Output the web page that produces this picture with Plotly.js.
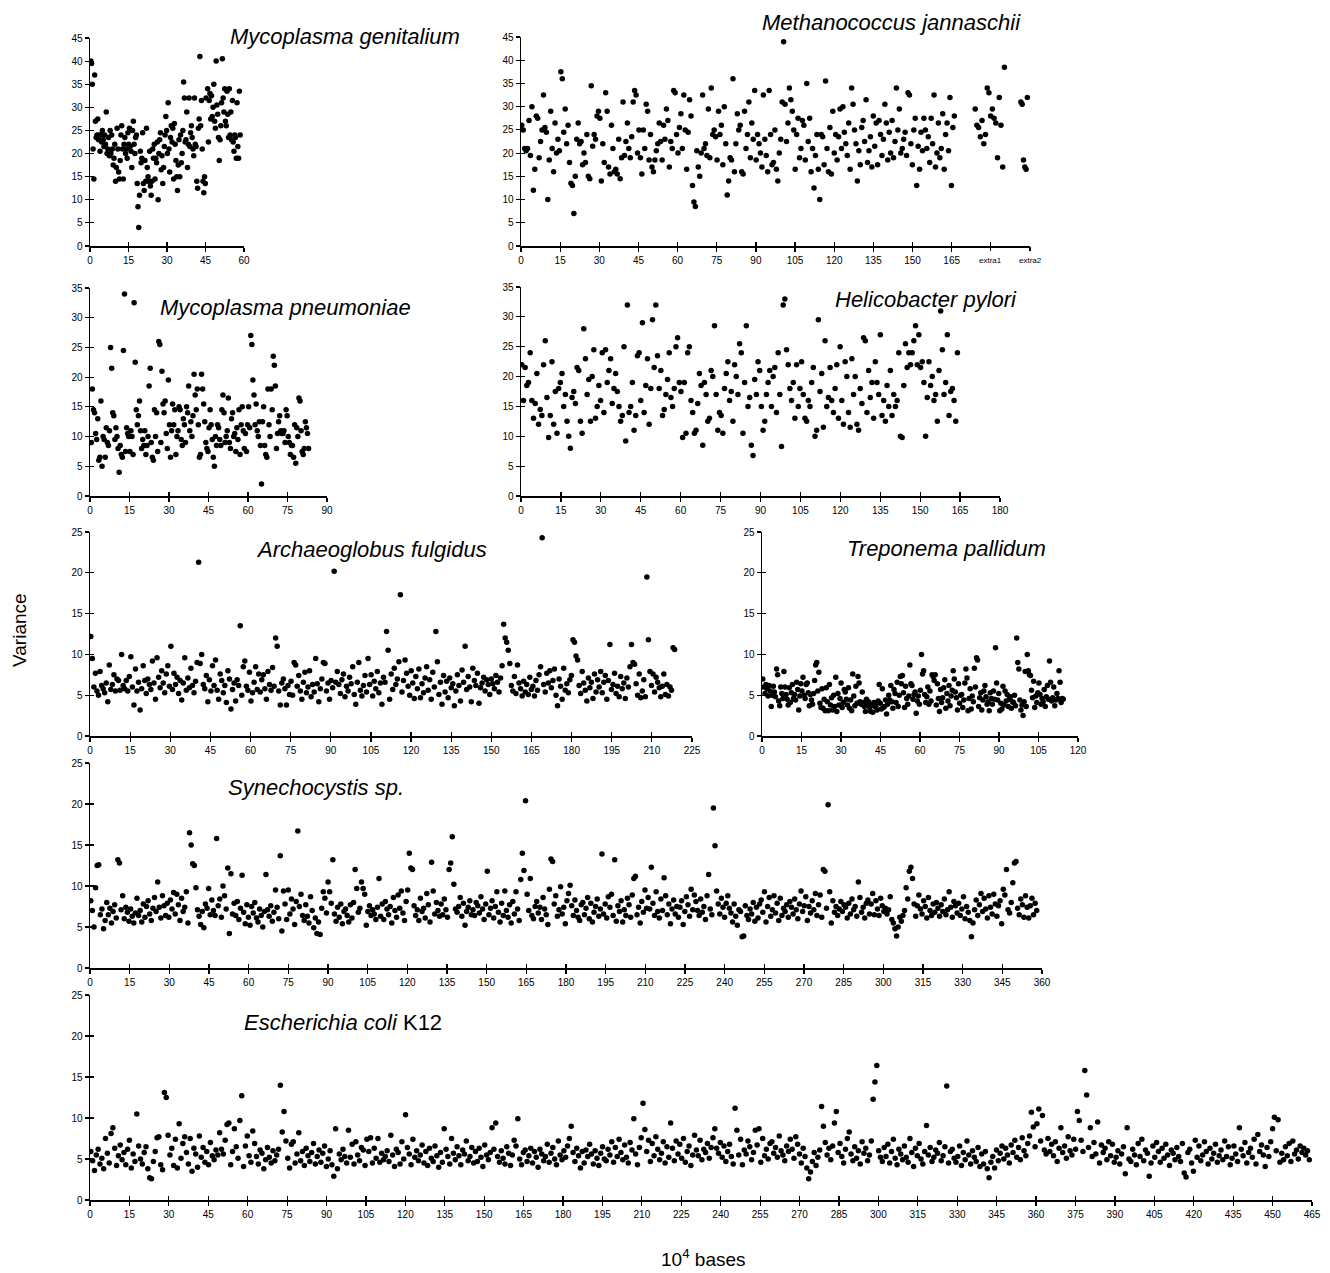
<!DOCTYPE html>
<html><head><meta charset="utf-8">
<script src="https://cdn.plot.ly/plotly-3.0.1.min.js"></script>
<style>html,body{margin:0;padding:0;background:#fff}#chart{width:1330px;height:1273px}</style>
</head><body><div id="chart"></div>
<script>
// Variance per sliding window along each genome (x in 10^4 bases)
const genitaliumVariance = [40,39.5,35,21,14.5,37,27,23.5,24,27.5,
23,24,20.5,24,22.5,25,23,21.5,24,22,
29,20,21,23.5,19.5,25,20,24,21,17.5,
19,22,14,17,25.5,21,16,14.5,18.5,24,
26,21,14.5,22,23.5,20,21,19,24.5,22,
25.5,21.5,20.5,17,25,27,22,20,23.5,24,
13.5,8.5,4,11,20.5,18,19,24.5,13.5,12,
18.5,14,25.5,17,15,14,20.5,13,11,14,
21,19,22,14.5,19,18,22.5,10,20,23,
24.5,16.5,19.5,13.5,17,21.5,24,28,25,20,
31,21,16,23.5,26,22.5,25.5,14.5,26.5,22,
18.5,15,12,17.5,23,15,24,18,20,25,
35.5,32,22.5,23,29,17,22,32,21.5,24.5,
26,23.5,21,19.5,32,22,21.5,14,12.5,25.5,
27.5,41,26,31.5,21,14,11.5,15,13.5,32,
47,34,22.5,31.5,33,27.5,32.5,28,30,35,
27,25.5,40,30.5,28.5,23.5,18.5,23,26,31,
40.5,32,29,34,27,26,33.5,28.5,23.5,34,
24,29,23,31.5,22.5,20.5,24,23.5,19,31,
21.5,19,33.5,24];

const jannaschiiVariance = [26,25,21,20.5,21,27,19.5,30,12,16.5,
28,27.5,19,22.5,25,32.5,25.5,24.5,10,18.5,
29,21,16,26.5,20,23,20.5,37.5,36,24.5,
29.5,22,26,18,13.5,13,7,15,23,26.5,
22,22.5,17.5,20,18,24,15,14.5,34.5,21.5,
24,23,28,29,27.5,14,22,18,33,29,
17,15.5,26,21,16,16.5,15.5,23,14.5,19,
31,19.5,22.5,26.5,21,19,23.5,31,33.5,32.5,
20,25,19,15.5,25,21,30.5,29,18.5,24,
17,16,18.5,20.5,22,26.5,22.5,18.5,26,23,
29.5,27,17,22.5,21,33.5,33,24,20,25.5,
28.5,21,32.5,25,16.5,24.5,31.5,28,13,9.5,
8.5,20.5,17,15,20,32.5,21,22,19.5,29.5,
19,34,24,25,23.5,18.5,29,24,26,17.5,
30,22,11,14,19,18.5,36,16,22,28.5,
25,26,16,15.5,29,21,24,31,19,26.5,
23,33.5,18.5,24,22,20,17,32.5,23,19.5,
16,33.5,24,17.5,18,25,16.5,14,20,23,
31,44,30.5,22.5,26.5,34,31.5,29,25,16.5,
24,27.5,19,21,27,26,18.5,35,22.5,27.5,
16,21,12.5,19.5,24,16.5,10,24,23.5,17.5,
35.5,21,16,25.5,15.5,29,20,24,18.5,23.5,
29.5,21,30,24.5,22,19.5,26.5,16.5,34,30.5,
25,22,14,20.5,17.5,25.5,27,22.5,31.5,18,
20.5,23.5,17,28,21.5,26.5,17.5,27,24,19.5,
23,30.5,26.5,18.5,24.5,20,27,19,22.5,34,
25,29.5,20,21,23,24.5,19.5,33,32.5,22,
17.5,25,27.5,13,21.5,16.5,24.5,20.5,27.5,25,
21,23.5,18,27.5,22,32.5,17,20,26.5,19,
21,28.5,16.5,24,26.5,20.5,32,13,25.5,28];
const jannaschiiExtra1Variance = [29.5,26,25.5,23.5,27,22,24,34,33,28,29.5,27.5,26.5,19,32,26,17,38.5];
const jannaschiiExtra2Variance = [31,30.5,18.5,17,16.5,32];

const pneumoniaeVariance = [9,18,14.5,14,10.5,9.5,13,
6,6.5,16,5,10,9.5,6.5,
11.5,9,8.5,11,25,21.5,14,13.5,9.5,11.5,
10,8,4,8.5,7,6.5,24.5,34,7.5,
11.5,10.5,10,7.5,11,10,7,32.5,22.5,14.5,12,
13.5,16,11,8,9.5,8.5,11,7,8.5,10,
18.5,21.5,9,6.5,6,14.5,10,14,7.5,26,25.5,9,
21,15.5,14,16,10.5,8,19.5,12,6.5,11,
15.5,12,14.5,7,10,11,15,14.5,9.5,
8.5,13,12,9,15,14,18.5,11,12.5,10,13.5,
20.5,17,14.5,18,12,6.5,7,20.5,18,15.5,12.5,
9,8,7.5,11.5,14.5,12,9.5,6.5,5,10,8.5,
12,11.5,9.5,8.5,14.5,17,14,9,10,11,
16.5,9,8,13,14,10,10.5,7.5,11.5,9.5,
14.5,7,12,15,11,8,10.5,7.5,12,15,11.5,
27,25.5,19.5,17,12,15.5,11,10,12.5,
8.5,2,12.5,15,8.5,7,6.5,18,12,10,
18,14.5,23.5,22,18.5,8,10.5,12.5,13.5,11,
10.5,10.5,11,9,14.5,13.5,10,9,7,8.5,
8.5,6.5,12,5.5,11.5,10,16.5,16,11,7.5,
7,8,12.5,11.5,10.5,8];

const pyloriVariance = [22,16,21.5,18.5,19,24,16,13,15.5,
20.5,12,14.5,13.5,22,26,16.5,9.8,13.5,22.5,
12,17.5,10.5,18,19,20.5,15,17,
12.5,10,8,16.5,17.5,15.5,21.5,21,12.5,10.5,
28,23,17,19.5,12.5,
20,24.5,13,15,18.5,16,24,14,24.5,
19,21,23,15.5,18,20.5,17.5,15,
12.5,13.5,25,9.2,32,14,15,19,11,13.5,23.5,24,16,29,14,
18.5,23,12,18,29.5,21.5,32,23.5,18,21,
13.5,14.5,17,19.5,24,16.5,15,18,25,26.5,19,
17.5,9.8,19,10.5,24,25,16,14,10.5,11,
15.5,20.5,18.5,8.5,19,17,12.5,13,21,20,
28.5,17,11,14,13.5,10.5,18,20.5,22.5,16,17.5,12.5,
22,20,17,25.5,24,10.5,19,28.5,15,16.5,8.5,6.8,
19.5,17,22.5,21,15,11,12.5,17,19,21,
15,20,21.5,14,24,17,8.3,32,33,24.5,
22,18,16,19,13,22,15,18,22.5,17,13,12.5,
16,15,19,21.5,10,11,29.5,17.5,20.5,11.5,
26,15,16.5,21.5,16,14,18,22,13,25,
16,12,22.5,20,14,11.5,23,17,20,
12,11,18,15.5,26.5,26,14,21,16.5,19,
13,22.5,19,17,27,13.5,16,12.5,18.5,15,
21,13.5,17,15,16,24,10,9.8,18.5,25.5,
21.5,24,22,24,26,28.5,22,27,21.5,22.5,
19,10,16.5,22.5,18.5,20,16,17,12.5,21,
31,24.5,17,19,27,13.5,17.5,18,16,12.5,24];

const fulgidusVariance = [12.2,9.5,6,7.7,5.5,5,7.9,6.2,5.8,5.3,
6.5,4.2,8.7,5.7,6.3,7.5,5.5,7,6.8,5.6,
10,6.2,5.8,6.8,5.5,7.3,9.7,6,3.8,8.2,
5.5,6.6,3.2,5.8,8.6,6.8,5.2,7,6.3,5.7,
9.2,6.5,4.5,9.6,7.2,5.9,8,6.5,5.3,7.6,
8.6,6.1,11,5.7,7.7,6.3,7.2,5.2,6.8,4.4,
6.5,9.6,5.6,7.1,5.9,8.3,6.2,5.3,6.7,9,
21.3,8.9,10,6.3,5.8,7.4,4.2,6.9,5.5,8.6,
6.2,9.3,5.6,4.5,7.6,6.8,5.3,6.2,4.1,8,
7,3.3,5.7,6.5,4.3,6.9,6.2,13.5,5,8.5,
9.2,6.1,5.6,7.8,4.3,5.3,6.6,8.5,5.7,7.6,
5.4,6.9,7.5,5.8,4.5,7.9,6.3,5.6,8.4,6.1,
12,11,5.5,3.8,6.5,7,5.8,3.8,6.2,5.1,
6.7,5,9,8.7,6.1,7.4,5.5,4.5,6.6,7.8,
5.3,6,8,4.8,6.3,5.4,9.5,6.4,4.2,5.8,
7,9,8.9,5.5,6.5,4.5,6.8,5.9,20.2,6.6,
7.9,6.3,5.2,6.9,7.6,4.8,6.1,5.5,7.2,6.4,
8.5,5.1,3.9,6.6,9,5.6,4.9,6.2,7.4,5.4,
9.5,6.3,7.5,4.9,6.7,5.8,7.9,5.3,6.5,3.9,
7.2,6.6,12.8,10.5,4.5,7.6,5.7,8.3,6.3,7,
9.1,17.3,5.4,6.8,9.3,7.7,6.1,5,8,6.5,
4.6,7.3,5.8,8.2,4.7,6.4,5.3,7.1,8.5,5.6,
6.9,4.5,7.8,6,12.8,9.1,5.1,6.6,3.9,7.4,
5.4,6.7,4.7,7.1,5.9,6.4,3.7,5.5,7.5,6.2,
4.3,8.1,6.6,11,5.7,7.3,6,4.2,8.3,6.8,
6.2,7.7,4,5.9,6.5,7.2,5.5,6.9,6.3,5.1,
7,6.4,5.8,7.4,6.6,5.4,7.1,8.6,13.7,12,
11.5,10.5,8.9,6.2,5.5,7.3,5.2,8.7,6.5,5.8,
4.9,6.7,5.4,6.3,5.1,7.2,5.7,6.1,4.9,6.8,
5.6,7.5,8.5,24.3,6.3,5.4,7.7,6.5,8,5.9,
6.8,8.2,5,3.7,7,6.1,4.5,8.3,5.6,6.4,
5.3,6.9,7.4,11.8,11.5,9.8,9.3,6.2,5.2,7.9,
6.5,5.6,4.3,7.1,5.9,6.6,4.6,7.6,5.4,6.9,
6,7.9,5.3,6.6,7.4,4.5,6.8,11.2,5.7,6.3,
7.7,5.2,6.1,4.8,7.3,5.8,6.5,4.6,7.1,6,
8.5,11.2,9,8.8,6.4,5,7.6,4.7,5.5,6.9,
4.8,19.5,11.8,7.9,6.2,7.6,5.4,7.2,6.6,5.9,
4.8,6.1,7.6,5.1,6.3,4.9,6,5.6,10.8,10.6];

const pallidumVariance = [7,6,5.2,6.3,5.8,4.9,6.2,5.5,3.6,5,
6.1,5.4,4.8,8.2,7.5,4.3,3.7,6,5.2,4.6,
7.9,6,5.1,4.5,3.8,5.9,4.1,5.3,6.3,4.6,
5.1,4.4,6.6,5.7,3.2,4.9,6.4,5.5,7.2,5,
4.6,6.3,6.5,5.3,3.7,5.1,4.4,3.9,5.2,6.8,
8.7,9,5.5,7.8,4,3.5,5.8,3.4,4.5,3.1,
5.9,4.2,3.1,6.3,3.8,4.7,3.2,5,3.6,7.2,
3,5.2,3.8,4.6,6.5,3.5,4.1,5.7,5.4,4.5,
3.8,5.9,3.4,4.4,3.1,7.6,4.9,3.7,6.1,4,
7.3,6.5,4.2,3.9,5.4,4.1,3.6,3,4.5,3.8,
4.2,3.5,3,3.8,2.9,4.1,3.6,3.7,3.2,4.3,
6.3,4,3.3,5.8,3.5,3.6,4.4,2.7,3.9,5,
4.4,6.2,4.2,3.4,5.7,5.2,4.1,6.6,3.6,5,
7.3,6.4,7.4,5.3,3.5,6.1,4.6,3.9,4.9,8.7,
6.4,6.2,4.5,5.1,5.4,2.8,4.3,4.9,3.9,5.6,
10,7.6,8,5.1,4.1,4.8,6,3.9,5.5,4.3,
7.5,7.3,6.8,7.5,3.8,6.4,4.6,3,5.7,4.1,
4.7,5.9,6.9,3.4,5.2,4.3,6.2,3.7,4.9,5.6,
8,7,5.4,4.7,3.2,6.4,4,5,5.1,3.5,
4.4,6.5,8.2,7.1,3.1,4.6,5.8,3.3,4.9,4.2,
8.3,6,9.6,9.3,3.6,4.7,5.3,3.2,4.4,5.5,
6.2,4.8,3.9,4.2,3.1,5.3,4.6,3.9,5.5,4.5,
10.8,6.5,4.4,5.2,3.1,4,3.3,6.1,3.8,5.5,
4.3,5.1,3.6,4.5,4.8,3.4,4.2,4.1,5,3.7,
12,9,8.2,4.4,3.2,3.8,2.5,4.2,7.9,3.6,
10,8,7.5,7.4,5.6,4.7,6.7,3.5,4.9,4.1,
5.3,6.5,5.1,3.9,4.6,4.2,5.7,3.6,4.8,6.2,
4.5,9.2,6.6,4.3,4.7,6,3.7,4.4,5.2,4.6,
8,6.6,4.1,4.6,4.5];

const synechocystisVariance = [8.2,7,5,9.8,12.5,12.6,6.5,7.2,4.8,5.8,
8,6.5,7.3,5.5,6.9,7.7,6.1,13.2,12.8,7.1,
8.8,6,7.4,6.8,5.7,7.2,6.3,5.5,6.7,8.5,
6.4,7,5.6,7.8,6.2,7.5,8.2,6.6,5.8,7.3,
8.6,6.9,10.5,7.4,6.1,8.8,7.6,6.4,7.9,6.2,
8.3,7.2,9.2,6.6,9,7.7,5.8,8.5,6.9,7.4,
9.3,5.5,16.5,15,12.7,12.5,9.8,7.1,6.3,5.3,
6.9,4.9,7.8,7.3,9.7,6.5,8.3,7,6.4,15.8,
7.6,8.4,6.2,10,8.8,7.2,12.2,4.2,11.5,6.6,
7.9,6.4,8.1,5.9,7.3,11.3,6.8,5.4,7.7,6.2,
5.2,7.5,6.7,8,6.1,5.6,7.2,6.4,5,6.9,
11.4,7.1,6.3,7.6,5.7,6.8,9.5,7.4,6,13.7,
4.5,9.4,7.8,5.9,9.5,6.6,8.4,7.2,5.3,8.1,
16.7,7.5,9,6.4,5.8,7.7,6.3,5.5,8.7,7,
4.9,6.1,4.2,5.6,4.1,7.3,9.3,8.5,6.7,10.5,
9.3,7.9,13.2,6.6,5.7,7.4,6.2,7.8,5.4,6.9,
7.2,6.4,5.6,7.7,6.1,8,12,9.7,6.8,7.3,
10.5,9.7,9,5.2,6.9,7.6,6.4,7.1,6.6,5.9,
7.4,10.9,6.3,7.8,5.9,8.1,7.2,6.5,7.5,5.5,
8.6,7,6.2,8.9,7.3,9.4,6.7,5.8,8.1,9.5,
14,12.2,12,7.6,6.4,7.1,5.8,8.5,6.9,7.3,
6.1,9.1,7.7,5.6,12.9,9.4,6.6,8,7,6.3,
7.8,6.5,8.4,7.1,6.2,12,12.8,16,10.2,7.2,
6.8,7.5,8.6,6.3,7.9,5.2,6.9,7.4,8.2,6.5,
7.1,6.4,8,7.6,6.7,8.7,7.2,5.9,7.8,11.8,
6.5,7.3,8.2,6.1,7.5,9.3,6.8,5.6,7.9,6.4,
9.4,7,6.2,7.7,5.5,8.1,6.6,9.3,7.2,5.8,
10.8,14,11.9,20.4,9,7,10.9,6.4,6,7.5,
8.1,6.7,7.4,5.9,8.6,7.2,6.5,5.3,9.6,13.3,
13,7.8,8.8,6.3,7.1,9.9,6.6,7.4,5.4,8.2,
9.1,10.1,7.6,6.4,8.3,7,6.2,5.8,7.7,8,
6.5,7.3,8.6,6,7.9,5.6,6.8,7.5,8.4,6.3,
7.2,13.9,6.6,7.8,6.1,8.7,7.4,9,6.4,13.2,
5.7,7.6,6.9,8.2,5.6,7.1,6.4,8.5,7.7,6.2,
8.9,10.9,11.2,6.5,7.4,5.5,8.1,6.8,9.5,7.3,
8.6,7.2,12.3,7.9,6.4,9.3,6.9,6.1,8.4,7,
11,8.8,6.5,7.8,5.4,7.2,8.3,6.6,7.5,6.2,
7.4,8.2,5.3,6.9,8.7,7.7,6.3,9.6,7.1,8.9,
8.1,7,6.4,8.4,6.8,7.5,5.9,8.8,11.4,7.2,
6.5,19.5,14.9,9.4,7.8,6.6,8.5,7.4,6.2,7.9,
8.8,7.3,6.7,5.6,7.8,6.3,5.2,7.1,6.9,3.8,
3.9,7.6,6.4,5.9,7.2,6.6,8,5.7,7.4,6.1,
7.8,8.3,6.8,9.3,5.6,7.5,8.6,6.3,7.1,8.8,
6.7,7.9,5.8,8.5,6.4,7.3,6.9,7.7,6.2,8.1,
7.4,6.6,8.4,7.1,6,7.8,9.4,6.9,7.6,8.7,
5.8,7.5,6.7,8.2,7.1,9.1,6.4,7.7,8.9,6.2,
12,11.8,7.3,19.9,9.3,5.5,8.2,6.8,7.5,6.4,
7.2,8.1,6.9,7.7,7.4,6.1,7.9,6.6,8.4,7.1,
7.5,6.3,10.5,8.6,6.8,7.4,6.1,7.9,8.3,6.6,
7.8,9.1,6.5,8.2,7.2,6.4,8.5,7.6,6.9,7.3,
6.6,7.1,8.7,5.9,5.5,4.8,3.9,5,6.2,5.7,
6.4,7,9.8,8.4,11.8,12.3,10.9,7.8,6.3,7.6,
8.9,7.2,6.6,8.2,7.5,6.1,8.6,7,6.4,7.8,
6.8,8,7.3,6.3,7.7,6.9,8.4,6.5,7.1,9.3,
7.4,6.2,8.1,7.6,6.7,7.9,6.4,7.2,8.7,6,
7.5,6.8,5.8,3.8,5.5,7.1,8.3,6.4,7.7,9.1,
6.9,8.5,7.2,6.1,8.8,7.4,6.6,9,7.8,6.3,
7.6,8.2,5.4,9.6,8.9,12,7.1,6.7,8,10.4,
12.8,13,7.3,6.5,8.4,7.7,6.2,8.8,7.4,6.1,
7.6,8.5,6.5,7.9,7];

const ecoliVariance = [5.9,4.8,3.6,5.5,6.2,4.4,5.1,3.8,7.5,5.7,
4.5,8.1,8.8,6.3,4.2,5.4,6.7,4.9,5.8,4.3,
6.2,7.3,3.9,5.6,4.7,10.5,6.6,5,4.4,5.8,
6.5,3.8,2.7,2.6,4.7,5.9,7.6,7.7,4.3,3.7,
13.1,12.5,7.9,5.5,6.3,4.2,7.4,3.9,9.3,5.1,
6.9,7.7,5.8,4.4,7.5,3.5,6.3,5.6,4,7.8,
5.2,6.4,4.6,5.9,4.3,7,5.4,4.9,6.1,5.5,
8.2,6.2,5.6,7.3,9.2,9.4,4.3,5.9,8.7,6.5,
5.1,9.7,12.7,4.1,6.6,7.8,5.4,4.6,8.4,6.9,
5.3,4.4,6.1,5.7,3.8,4.9,6.4,5.2,4.5,6,
4.8,5.5,6.2,14,8.3,10.8,7.2,5.1,3.9,6.8,
7.1,4.5,5.6,8.2,4.8,5.9,4.2,6.3,5.4,4.7,
5.8,6.9,4.4,5.3,6.1,4.6,5.7,6.6,4.1,5,
6,4.3,2.9,8.7,3.8,5.6,4.9,6.2,5.3,4.5,
8.5,5.2,6.8,4.4,7.1,5.5,4.8,6.4,6.1,4.2,
7.4,5.9,7.6,4.5,6.3,5.1,7.5,4.6,5.7,4.9,
5.3,6,4.7,7.9,5.5,4.1,6.2,5.8,4.4,7.1,
5,10.4,6.4,5.6,4.3,7.4,5.2,6,4.8,5.5,
6.7,4.5,5.9,4.2,6.3,5.1,4.7,6.6,5.4,4,
5.8,4.6,8.7,6.2,5.3,4.4,7.5,5.7,4.9,6.5,
5.4,4.3,6.1,5.6,7.2,4.8,5.3,6.4,4.5,5.9,
4.7,6.3,5.2,4.1,6.7,5.5,4.9,5.8,8.8,6.2,
9.4,5.3,4.6,6,5.1,4.4,6.5,5.7,4.2,5.5,
7.3,6.6,9.9,5,4.3,5.8,6.1,4.7,5.4,6.3,
4.5,5.9,5.2,4,6.2,5.6,4.8,5.3,6.8,4.6,
5.7,6.4,5,4.3,7.2,5.5,4.9,6,5.2,6.6,
7.5,9,5.8,4.7,6.3,5.4,3.9,5.9,4.5,6.1,
5.3,6.8,5.6,4.4,6,5.1,4.2,5.7,6.5,5,
4.8,6.2,5.5,7.1,4.6,6.4,5.3,7.4,5.8,4.9,
6.7,5.2,4.5,7,6.1,9.9,5.6,4.3,6.4,7.6,
11.8,8.6,5.9,7.3,4.7,6.9,5.4,7.7,6.2,4.9,
5.7,7.1,4.5,6.5,5.2,9.4,6.3,4.8,7.2,5.6,
6.8,5.1,7.5,4.6,5.9,6.6,4.2,5.5,7.9,6.1,
5.4,7.3,4.9,6.2,5.8,6.9,5.1,6.4,7.6,8.7,
6.3,5.7,7,5.2,6.6,4.7,5.9,6.8,5.3,4.4,
11.2,8.5,5.5,7.4,4.3,6.1,5.6,7.2,6.5,4.9,
5.8,8.5,6.7,8.7,4.6,7.5,5.4,6.2,5,6.9,
7.1,5.7,6.4,5.2,7.8,6,5.5,4.8,6.6,5.9,
7.4,6.2,5.1,7.7,6.8,5.6,4.5,6.3,5.3,3.9,
2.6,3.4,4.7,5.8,4.2,5.2,6.1,11.4,9,7,
5.5,6.3,4.9,6.6,9.4,10.8,5.8,6.9,5.3,4.5,
6.2,7.5,8.3,5.6,4.8,6.5,5.1,6,4.4,7.1,
5.7,6.3,4.8,5.5,7.2,12.3,14.4,16.4,6,5.2,
4.7,6.4,5.3,6.8,4.5,5.9,7.4,5.1,4.3,6.2,
5.6,4.9,6.6,5.2,4.6,7.5,5.8,4.1,6.3,5.4,
6.9,5,4.4,5.9,9.1,5.5,6.4,4.7,5.2,6.1,
5.7,7,4.8,5.4,6.5,13.9,4.5,5.9,6.2,5.1,
4.6,5.3,6.6,4.2,5.8,4.9,7.2,5.5,4.4,6,
5.2,4.7,6.4,4.1,5.6,4.4,5.9,3.8,2.7,4.6,
5.3,3.9,6.1,4.8,5.7,6.6,5,6.3,5.5,4.5,
6.7,5.8,7.3,5.2,6.4,4.9,7.6,6,5.4,6.9,
7.8,10.7,8.9,6.5,9.3,11.1,7.2,10.3,6.1,5.6,
7.5,5.9,6.8,5.4,7.1,4.7,6.3,8.8,5.8,6.6,
5.1,7.7,6,5.5,7.4,6.2,10.8,9.7,7.3,5.9,
15.8,12.8,6.4,8.8,5.3,7,5.6,9.5,4.5,6.7,
5.8,6.3,4.9,7.1,5.4,6.8,4.6,5.2,6,4.4,
5.6,6.5,3.2,8.8,5,4.7,6.2,5.5,4.3,6.9,
5.3,7.4,4.8,6.1,5.7,2.9,4.5,6.6,5.2,7,
5.9,4.6,6.3,5.1,6.8,5.5,4.2,6.1,5.7,4.9,
6.4,5.3,4.7,6.9,3.3,2.8,5.8,6.2,4.5,3.5,
7.3,5.2,6.6,4.8,5.5,7.1,5.9,4.4,6.3,5,
5.7,6.8,4.6,5.4,6.1,4.9,7.2,5.3,6.5,4.3,
5.1,6.6,5.6,4.7,8.8,6.2,5.4,7,4.5,5.8,
6.3,5.2,7.4,4.4,8,5.9,6.7,5.5,4.1,6.4,
5.3,7.1,8.7,10.1,6,9.8,4.6,5.7,4.9,6.5,
5.4,6.9,4.7,7.2,5.6,6.1,5,6.6,5.8,6.3,
5.5,6,4.9];

// x tick labels of the Methanococcus panel (extra contigs after the chromosome)
const jannaschiiTickText = ['0','15','30','45','60','75','90','105','120','135','150','165','extra1','extra2'];

const W = 1330, H = 1273;
// layout of each panel (pixel boxes), separate from the data arrays
const panels = [
  {title:'<i>Mycoplasma genitalium</i>', y:genitaliumVariance, x0:0.3, x1:58.5, xMax:60, yMax:45, px:[90,244], py:[246,38], tx:345, ty:36},
  {title:'<i>Methanococcus jannaschii</i>', y:jannaschiiVariance, x0:0.3, x1:166, xMax:195, yMax:45, px:[521,1030], py:[246,37], tx:891, ty:22, labels:jannaschiiTickText},
  {title:'<i>Mycoplasma pneumoniae</i>', y:pneumoniaeVariance, x0:0.5, x1:83, xMax:90, yMax:35, px:[90,327], py:[496,288], tx:285, ty:307},
  {title:'<i>Helicobacter pylori</i>', y:pyloriVariance, x0:0.3, x1:164, xMax:180, yMax:35, px:[521,1000], py:[496,287], tx:926, ty:299},
  {title:'<i>Archaeoglobus fulgidus</i>', y:fulgidusVariance, x0:0.3, x1:218.5, xMax:225, yMax:25, px:[90,692], py:[736,532], tx:372, ty:549},
  {title:'<i>Treponema pallidum</i>', y:pallidumVariance, x0:0.3, x1:114.4, xMax:120, yMax:25, px:[762,1078], py:[736,532], tx:946, ty:548},
  {title:'<i>Synechocystis sp.</i>', y:synechocystisVariance, x0:0.3, x1:358, xMax:360, yMax:25, px:[90,1042], py:[968,763], tx:316, ty:787},
  {title:'<i>Escherichia coli</i> K12', y:ecoliVariance, x0:0.3, x1:464, xMax:465, yMax:25, px:[90,1312], py:[1200,995], tx:343, ty:1022}
];
const extraSeries = [
  {panel:1, y:jannaschiiExtra1Variance, x0:174, x1:185.2},
  {panel:1, y:jannaschiiExtra2Variance, x0:191.5, x1:194}
];

function windowPositions(vals, a, b){
  const n = vals.length;
  return vals.map((_, j) => n > 1 ? a + j*(b-a)/(n-1) : a);
}

const FONT = 'Liberation Sans, Arial, sans-serif';
const tickFont = {family:FONT, size:10, color:'#000'};
const markerStyle = {color:'#000', size:5.5, line:{width:0}};
const data = [];
const layout = {width:W, height:H, margin:{l:0,r:0,t:0,b:0}, showlegend:false,
  paper_bgcolor:'#fff', plot_bgcolor:'rgba(0,0,0,0)', annotations:[]};
const common = {showgrid:false, zeroline:false, tickcolor:'#000', ticklen:4, tickwidth:1.2, fixedrange:true};
let nextAxis = 17;

panels.forEach((p, i) => {
  const k = i+1, o = i+9;
  data.push({type:'scatter', mode:'markers', x:windowPositions(p.y, p.x0, p.x1), y:p.y,
    xaxis:'x'+k, yaxis:'y'+k, marker:markerStyle, hoverinfo:'skip'});
  const xt = []; for (let v=0; v<=p.xMax+1e-9; v+=15) xt.push(v);
  const yt = []; for (let v=0; v<=p.yMax+1e-9; v+=5) yt.push(v);
  // labelled (numeric) ticks on the main axis
  let mainVals = xt, mainText = xt.map(String);
  if (p.labels) {
    mainVals = xt.filter((v, j) => !p.labels[j].startsWith('extra'));
    mainText = p.labels.filter(t => !t.startsWith('extra'));
    const extraVals = xt.filter((v, j) => p.labels[j].startsWith('extra'));
    // outward tick marks for the extra contig positions, labelled by small annotations
    const ax = nextAxis++;
    layout['xaxis'+ax] = Object.assign({}, common, {overlaying:'x'+k, anchor:'y'+(i+9), range:[0,p.xMax],
      tickmode:'array', tickvals:extraVals, ticks:'outside', showticklabels:false, showline:false});
    data.push({type:'scatter', mode:'markers', x:[null], y:[null], xaxis:'x'+ax, yaxis:'y'+o, hoverinfo:'skip', marker:{opacity:0}});
    p.labels.forEach((t, j) => {
      if (t.startsWith('extra')) layout.annotations.push({text:t, xref:'x'+k, yref:'paper', x:xt[j], y:1-(p.py[0]+14)/H,
        xanchor:'center', yanchor:'middle', showarrow:false, font:{family:FONT, size:8, color:'#000'}});
    });
  }
  layout['xaxis'+k] = Object.assign({}, common, {domain:[p.px[0]/W, p.px[1]/W], anchor:'y'+k, range:[0,p.xMax],
    tickmode:'array', tickvals:mainVals, ticktext:mainText, ticks:'outside', showline:true, linecolor:'#000', linewidth:1.5, tickfont:tickFont});
  layout['yaxis'+k] = Object.assign({}, common, {domain:[1-p.py[0]/H, 1-p.py[1]/H], anchor:'x'+k, range:[0,p.yMax],
    tickmode:'array', tickvals:yt, ticks:'outside', showline:true, linecolor:'#000', linewidth:1.5, tickfont:tickFont});
  // inward half of the crossing tick marks
  layout['xaxis'+o] = Object.assign({}, common, {overlaying:'x'+k, anchor:'y'+o, range:[0,p.xMax],
    tickmode:'array', tickvals:xt, ticks:'inside', showticklabels:false, showline:false});
  layout['yaxis'+o] = Object.assign({}, common, {overlaying:'y'+k, anchor:'x'+o, range:[0,p.yMax],
    tickmode:'array', tickvals:yt, ticks:'inside', showticklabels:false, showline:false});
  data.push({type:'scatter', mode:'markers', x:[null], y:[null], xaxis:'x'+o, yaxis:'y'+o, hoverinfo:'skip', marker:{opacity:0}});
  layout.annotations.push({text:p.title, xref:'paper', yref:'paper', x:p.tx/W, y:1-p.ty/H,
    xanchor:'center', yanchor:'middle', showarrow:false, font:{family:FONT, size:22, color:'#000'}});
});

extraSeries.forEach(e => {
  data.push({type:'scatter', mode:'markers', x:windowPositions(e.y, e.x0, e.x1), y:e.y,
    xaxis:'x'+(e.panel+1), yaxis:'y'+(e.panel+1), marker:markerStyle, hoverinfo:'skip'});
});

layout.annotations.push({text:'Variance', xref:'paper', yref:'paper', x:20/W, y:1-630/H, textangle:-90,
  xanchor:'center', yanchor:'middle', showarrow:false, font:{family:FONT, size:19, color:'#000'}});
layout.annotations.push({text:'10<sup>4</sup> bases', xref:'paper', yref:'paper', x:704/W, y:1-1258/H,
  xanchor:'center', yanchor:'middle', showarrow:false, font:{family:FONT, size:19, color:'#000'}});

Plotly.newPlot('chart', data, layout, {staticPlot:true});
</script></body></html>
